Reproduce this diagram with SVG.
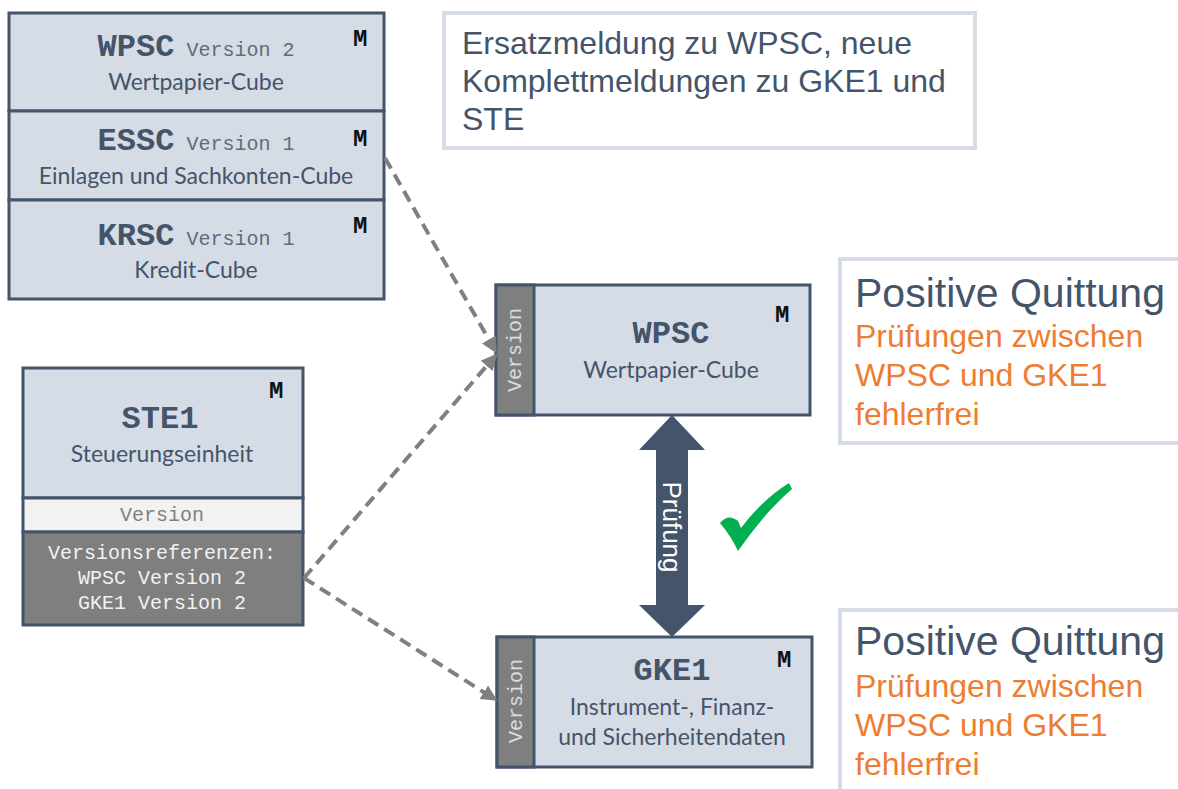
<svg xmlns="http://www.w3.org/2000/svg" width="1178" height="789" viewBox="0 0 1178 789">
  <style>
    .box { fill: #d6dce5; stroke: #44546a; stroke-width: 3; }
    .strip { fill: #7f7f7f; stroke: #44546a; stroke-width: 3; }
    .code { font-family: "Liberation Mono", "DejaVu Sans Mono", monospace; font-weight: bold; font-size: 32px; fill: #44546a; }
    .ver { font-family: "Liberation Mono", "DejaVu Sans Mono", monospace; font-weight: normal; font-size: 20px; fill: #5f6b7a; }
    .m { font-family: "Liberation Mono", "DejaVu Sans Mono", monospace; font-weight: bold; font-size: 24px; fill: #111111; }
    .desc { font-family: Lato, "Open Sans", sans-serif; font-size: 23px; fill: #44546a; }
    .strip-t { font-family: "Liberation Mono", "DejaVu Sans Mono", monospace; font-size: 20px; fill: #dcdcdc; }
    .note { fill: #ffffff; stroke: #d6dce5; stroke-width: 4; }
    .note-t { font-family: "Liberation Sans", Arial, sans-serif; font-size: 32px; fill: #44546a; }
    .title-t { font-family: "Liberation Sans", Arial, sans-serif; font-size: 41px; fill: #44546a; }
    .ok-t { font-family: "Liberation Sans", Arial, sans-serif; font-size: 32px; fill: #ed7d31; }
    .dash { fill: none; stroke: #808080; stroke-width: 4; stroke-dasharray: 12 7; marker-end: url(#head); }
  </style>
  <defs>
    <marker id="head" viewBox="0 0 10 10" refX="9" refY="5" markerWidth="4" markerHeight="4" orient="auto" markerUnits="strokeWidth">
      <path d="M0,0 L10,5 L0,10 z" fill="#808080"/>
    </marker>
  </defs>

  <rect width="1178" height="789" fill="#ffffff"/>

  <!-- message note -->
  <g id="note-message">
    <rect class="note" x="444" y="13" width="531" height="135" stroke-width="3"/>
    <text class="note-t" x="462" y="54">Ersatzmeldung zu WPSC, neue</text>
    <text class="note-t" x="462" y="92">Komplettmeldungen zu GKE1 und</text>
    <text class="note-t" x="462" y="130">STE</text>
  </g>

  <!-- cube stack -->
  <g id="node-wpsc-v2">
    <rect class="box" x="9" y="13" width="375" height="98"/>
    <text x="196" y="56" text-anchor="middle"><tspan class="code">WPSC</tspan><tspan class="ver"> Version 2</tspan></text>
    <text class="desc" x="196" y="90" text-anchor="middle">Wertpapier-Cube</text>
    <text class="m" x="353" y="46">M</text>
  </g>
  <g id="node-essc-v1">
    <rect class="box" x="9" y="111" width="375" height="89"/>
    <text x="196" y="150" text-anchor="middle"><tspan class="code">ESSC</tspan><tspan class="ver"> Version 1</tspan></text>
    <text class="desc" x="196" y="184" text-anchor="middle">Einlagen und Sachkonten-Cube</text>
    <text class="m" x="353" y="146">M</text>
  </g>
  <g id="node-krsc-v1">
    <rect class="box" x="9" y="200" width="375" height="99"/>
    <text x="196" y="245" text-anchor="middle"><tspan class="code">KRSC</tspan><tspan class="ver"> Version 1</tspan></text>
    <text class="desc" x="196" y="278" text-anchor="middle">Kredit-Cube</text>
    <text class="m" x="353" y="233">M</text>
  </g>

  <!-- control unit -->
  <g id="node-ste1">
    <rect class="box" x="23" y="368" width="280" height="130"/>
    <rect x="23" y="498" width="280" height="34" fill="#f2f2f2" stroke="#44546a" stroke-width="3"/>
    <rect x="23" y="532" width="280" height="93" fill="#7f7f7f" stroke="#44546a" stroke-width="3"/>
    <text class="m" x="269" y="398">M</text>
    <text class="code" x="160" y="428" text-anchor="middle">STE1</text>
    <text class="desc" x="162" y="462" text-anchor="middle">Steuerungseinheit</text>
    <text class="ver" x="162" y="521" text-anchor="middle" fill="#808080" style="fill:#808080">Version</text>
    <text class="ver" x="162" y="559" text-anchor="middle" style="fill:#f2f2f2">Versionsreferenzen:</text>
    <text class="ver" x="162" y="584" text-anchor="middle" style="fill:#f2f2f2">WPSC Version 2</text>
    <text class="ver" x="162" y="609" text-anchor="middle" style="fill:#f2f2f2">GKE1 Version 2</text>
  </g>

  <!-- WPSC cube -->
  <g id="node-wpsc">
    <rect class="box" x="496" y="285" width="314" height="130"/>
    <rect class="strip" x="496" y="285" width="38" height="130"/>
    <text class="strip-t" transform="translate(521,350) rotate(-90)" text-anchor="middle">Version</text>
    <text class="m" x="775" y="322">M</text>
    <text class="code" x="671" y="343" text-anchor="middle">WPSC</text>
    <text class="desc" x="671" y="378" text-anchor="middle">Wertpapier-Cube</text>
  </g>

  <!-- GKE1 cube -->
  <g id="node-gke1">
    <rect class="box" x="497" y="637" width="315" height="130"/>
    <rect class="strip" x="497" y="637" width="37" height="130"/>
    <text class="strip-t" transform="translate(522,701) rotate(-90)" text-anchor="middle">Version</text>
    <text class="m" x="777" y="667">M</text>
    <text class="code" x="672" y="680" text-anchor="middle">GKE1</text>
    <text class="desc" x="672" y="715" text-anchor="middle">Instrument-, Finanz-</text>
    <text class="desc" x="672" y="745" text-anchor="middle">und Sicherheitendaten</text>
  </g>

  <!-- check arrow between the cubes -->
  <g id="check">
    <path d="M672,415 L705,450 L688,450 L688,605 L705,605 L672,637 L639,605 L656,605 L656,450 L639,450 Z" fill="#44546a"/>
    <text transform="translate(663,527) rotate(90)" text-anchor="middle" font-family="Liberation Sans, Arial, sans-serif" font-size="26" fill="#ffffff">Prüfung</text>
    <path d="M720,523 Q728,513 738,521 L741,528 Q762,500 789,483 L792,489 Q765,512 738,551 Q731,536 720,523 Z" fill="#00b050"/>
  </g>

  <!-- acknowledgements -->
  <g id="note-ack-wpsc">
    <rect class="note" x="840" y="259" width="360" height="184"/>
    <text class="title-t" x="855" y="307">Positive Quittung</text>
    <text class="ok-t" x="855" y="347">Prüfungen zwischen</text>
    <text class="ok-t" x="855" y="386">WPSC und GKE1</text>
    <text class="ok-t" x="855" y="425">fehlerfrei</text>
  </g>
  <g id="note-ack-gke1">
    <rect class="note" x="840" y="610" width="360" height="200"/>
    <text class="title-t" x="855" y="655">Positive Quittung</text>
    <text class="ok-t" x="855" y="697">Prüfungen zwischen</text>
    <text class="ok-t" x="855" y="736">WPSC und GKE1</text>
    <text class="ok-t" x="855" y="775">fehlerfrei</text>
  </g>

  <!-- connectors -->
  <g id="connectors">
    <path class="dash" d="M385,158 L496,352"/>
    <path class="dash" d="M304,578 L496,355"/>
    <path class="dash" d="M304,578 L496,700"/>
  </g>
</svg>
